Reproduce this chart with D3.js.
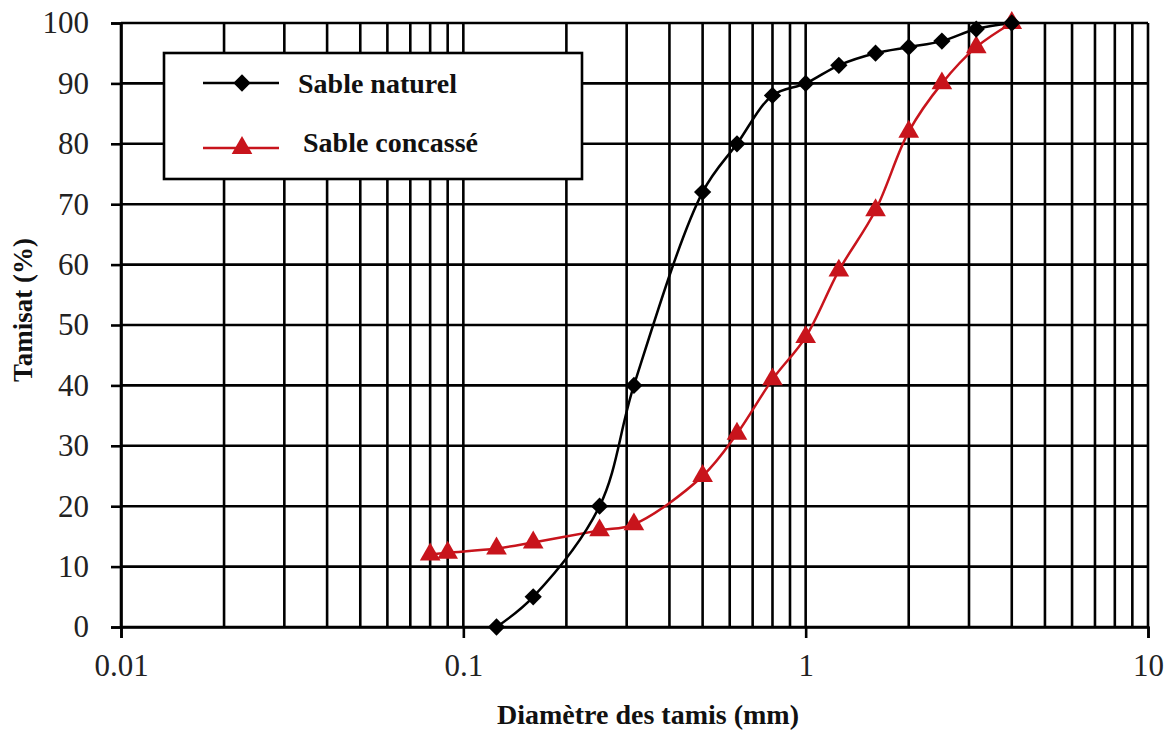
<!DOCTYPE html>
<html>
<head>
<meta charset="utf-8">
<script src="https://cdn.jsdelivr.net/npm/d3@7"></script>
<style>
  html, body { margin: 0; padding: 0; background: #fff; }
  svg { display: block; }
</style>
</head>
<body>
<svg id="chart" width="1176" height="731"></svg>
<script>
// Granulométrie : tamisat cumulé (%) en fonction du diamètre des tamis (mm)
const naturelDiam = [0.125, 0.16, 0.25, 0.315, 0.5, 0.63, 0.8, 1, 1.25, 1.6, 2, 2.5, 3.15, 4];
const naturelPass = [0, 5, 20, 40, 72, 80, 88, 90, 93, 95, 96, 97, 99, 100];

const concasseDiam = [0.08, 0.09, 0.125, 0.16, 0.25, 0.315, 0.5, 0.63, 0.8, 1, 1.25, 1.6, 2, 2.5, 3.15, 4];
const concassePass = [12, 12.3, 13, 14, 16, 17, 25, 32, 41, 48, 59, 69, 82, 90, 96, 100];

const xTickValues = [0.01, 0.1, 1, 10];
const xTickLabels = ["0.01", "0.1", "1", "10"];
const yTickValues = [0, 10, 20, 30, 40, 50, 60, 70, 80, 90, 100];

const seriesNames = ["Sable naturel", "Sable concassé"];

const svg = d3.select("#chart");
const plotLeft = 121, plotRight = 1148, plotTop = 23, plotBottom = 627;

const x = d3.scaleLog().domain([0.01, 10]).range([plotLeft, plotRight]);
const y = d3.scaleLinear().domain([0, 100]).range([plotBottom, plotTop]);

const serif = "'Liberation Serif', 'Times New Roman', serif";
const gridColor = "#000";

// Minor + major vertical grid lines (1..9 per decade)
const vGrid = [];
for (let d = -2; d <= 0; d++) {
  for (let k = 1; k <= 9; k++) vGrid.push(k * Math.pow(10, d));
}
vGrid.push(10);

const g = svg.append("g");

g.selectAll("line.vgrid").data(vGrid).join("line")
  .attr("class", "vgrid")
  .attr("x1", d => x(d)).attr("x2", d => x(d))
  .attr("y1", plotTop).attr("y2", plotBottom)
  .attr("stroke", gridColor).attr("stroke-width", 2.6);

g.selectAll("line.hgrid").data(yTickValues).join("line")
  .attr("class", "hgrid")
  .attr("x1", plotLeft).attr("x2", plotRight)
  .attr("y1", d => y(d)).attr("y2", d => y(d))
  .attr("stroke", gridColor).attr("stroke-width", 2.6);

// Y axis
const yAxis = g.append("g")
  .attr("transform", `translate(${plotLeft},0)`)
  .call(d3.axisLeft(y).tickValues(yTickValues).tickSize(10).tickPadding(22).tickFormat(d3.format("d")));
yAxis.select(".domain").attr("stroke", "#000").attr("stroke-width", 2.6);
yAxis.selectAll(".tick line").attr("stroke", "#000").attr("stroke-width", 2.6);
yAxis.selectAll(".tick text")
  .attr("font-family", serif).attr("font-size", 31).attr("fill", "#222");

// X axis
const xAxis = g.append("g")
  .attr("transform", `translate(0,${plotBottom})`)
  .call(d3.axisBottom(x).tickValues(xTickValues).tickSize(11).tickPadding(16)
    .tickFormat((d, i) => xTickLabels[i]));
xAxis.select(".domain").attr("stroke", "#000").attr("stroke-width", 2.6);
xAxis.selectAll(".tick line").attr("stroke", "#000").attr("stroke-width", 2.6);
xAxis.selectAll(".tick text")
  .attr("font-family", serif).attr("font-size", 31).attr("fill", "#222");

// Axis titles
svg.append("text")
  .attr("x", 648).attr("y", 724)
  .attr("text-anchor", "middle")
  .attr("font-family", serif).attr("font-weight", "bold").attr("font-size", 28)
  .attr("fill", "#111")
  .text("Diamètre des tamis (mm)");

svg.append("text")
  .attr("transform", "translate(32,310) rotate(-90)")
  .attr("text-anchor", "middle")
  .attr("font-family", serif).attr("font-weight", "bold").attr("font-size", 27)
  .attr("fill", "#111")
  .text("Tamisat (%)");

// Curves
const line = d3.line().curve(d3.curveCatmullRom.alpha(0.5));

const naturelPts = naturelDiam.map((d, i) => [x(d), y(naturelPass[i])]);
const concassePts = concasseDiam.map((d, i) => [x(d), y(concassePass[i])]);

const red = "#c8141c";
const diamond = d3.symbol().type(d3.symbolDiamond2).size(190);
const triangle = d3.symbol().type(d3.symbolTriangle).size(185);

svg.append("path").attr("d", line(concassePts))
  .attr("fill", "none").attr("stroke", red).attr("stroke-width", 2.5);
svg.append("path").attr("d", line(naturelPts))
  .attr("fill", "none").attr("stroke", "#000").attr("stroke-width", 2.5);

svg.selectAll("path.tri").data(concassePts).join("path")
  .attr("class", "tri")
  .attr("d", triangle)
  .attr("transform", d => `translate(${d[0]},${d[1]})`)
  .attr("fill", red);

svg.selectAll("path.dia").data(naturelPts).join("path")
  .attr("class", "dia")
  .attr("d", diamond)
  .attr("transform", d => `translate(${d[0]},${d[1]})`)
  .attr("fill", "#000");

// Legend
const legend = svg.append("g");
legend.append("rect")
  .attr("x", 164).attr("y", 53).attr("width", 418).attr("height", 126)
  .attr("fill", "#fff").attr("stroke", "#000").attr("stroke-width", 2.6);

const legendRows = [
  { name: seriesNames[0], color: "#000", sym: diamond, y: 83, tx: 298, ty: 93 },
  { name: seriesNames[1], color: red, sym: triangle, y: 148, tx: 303, ty: 152 }
];
legendRows.forEach(r => {
  legend.append("line")
    .attr("x1", 203).attr("x2", 279).attr("y1", r.y).attr("y2", r.y)
    .attr("stroke", r.color).attr("stroke-width", 2.5);
  legend.append("path").attr("d", r.sym)
    .attr("transform", `translate(242,${r.y})`).attr("fill", r.color);
  legend.append("text")
    .attr("x", r.tx).attr("y", r.ty)
    .attr("font-family", serif).attr("font-weight", "bold").attr("font-size", 28)
    .attr("fill", "#111")
    .text(r.name);
});
</script>
</body>
</html>
